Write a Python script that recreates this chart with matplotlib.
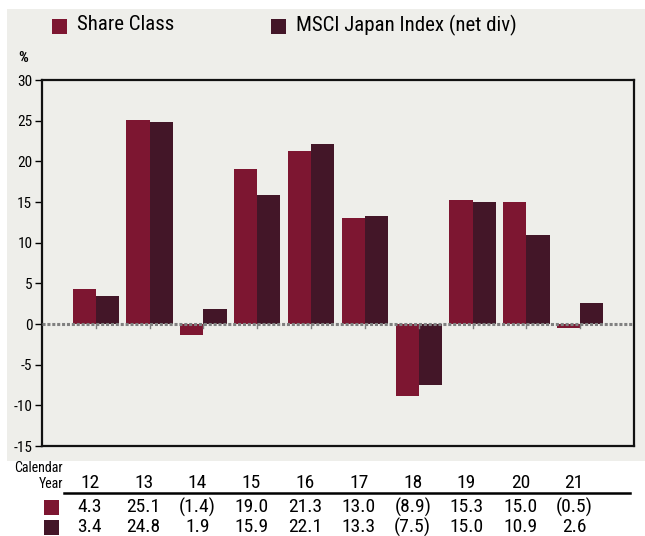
import matplotlib
matplotlib.use("Agg")
import matplotlib.pyplot as plt
from matplotlib.patches import Rectangle
import numpy as np

plt.rcParams['font.family'] = ['Roboto Condensed', 'Liberation Sans', 'DejaVu Sans']

years = ["12", "13", "14", "15", "16", "17", "18", "19", "20", "21"]
share_class = [4.3, 25.1, -1.4, 19.0, 21.3, 13.0, -8.9, 15.3, 15.0, -0.5]
msci_japan = [3.4, 24.8, 1.9, 15.9, 22.1, 13.3, -7.5, 15.0, 10.9, 2.6]
series_names = ["Share Class", "MSCI Japan Index (net div)"]
colors = ["#7D1631", "#431628"]
bg = "#EEEEEA"

W, H = 645, 536
fig = plt.figure(figsize=(W / 100, H / 100), dpi=100)
fig.patch.set_facecolor("white")
fig.add_artist(Rectangle((7 / W, 1 - 461 / H), (W - 7) / W, (461 - 9) / H,
                         transform=fig.transFigure, facecolor=bg, edgecolor="none", zorder=0))

left, right, top, bottom = 42, 634, 80, 446
ax = fig.add_axes([left / W, 1 - bottom / H, (right - left) / W, (bottom - top) / H])
ax.set_facecolor(bg)

x = np.arange(len(years))
w = 0.43
ax.bar(x - w / 2, share_class, w, color=colors[0], zorder=3)
ax.bar(x + w / 2, msci_japan, w, color=colors[1], zorder=3)
ax.axhline(0, color="#808080", lw=2.2, ls=(0, (1, 0.6)), zorder=4)

ax.set_xlim(-1, 10)
ax.set_ylim(-15, 30)
ax.set_yticks(range(-15, 31, 5))
ax.set_yticklabels([str(v) for v in range(-15, 31, 5)], fontsize=11)
ax.tick_params(axis="y", length=5, width=1, pad=2)
ax.set_xticks([])
for xi in x:
    ax.plot([xi, xi], [0, -0.5], color="#808080", lw=1, zorder=4)
for s in ax.spines.values():
    s.set_linewidth(1.6)
    s.set_color("#111111")

fig.text(23 / W, 1 - 58 / H, "%", fontsize=11, ha="center", va="center", fontweight="bold")

# legend
lx = [52, 271]
tx = [77, 296]
for i in range(2):
    fig.add_artist(Rectangle((lx[i] / W, 1 - 34 / H), 15 / W, 15 / H, transform=fig.transFigure,
                             facecolor=colors[i], edgecolor="none"))
    fig.text(tx[i] / W, 1 - 25 / H, series_names[i], fontsize=15, ha="left", va="center")

# table
def xpix(v):
    return left + (v + 1) / 11 * (right - left) - 6

fig.text(63 / W, 1 - 468 / H, "Calendar", fontsize=10, ha="right", va="center")
fig.text(63 / W, 1 - 484 / H, "Year", fontsize=10, ha="right", va="center")
for i, yr in enumerate(years):
    fig.text(xpix(i) / W, 1 - 483 / H, yr, fontsize=14, ha="center", va="center")
fig.add_artist(plt.Line2D([64 / W, 630 / W], [1 - 493 / H, 1 - 493 / H], color="black", lw=1.8,
                          transform=fig.transFigure))

def fmt(v):
    return f"({abs(v):.1f})" if v < 0 else f"{v:.1f}"

for r, (vals, ypix) in enumerate([(share_class, 507), (msci_japan, 527)]):
    fig.add_artist(Rectangle((44 / W, 1 - (ypix + 7.5) / H), 15 / W, 15 / H, transform=fig.transFigure,
                             facecolor=colors[r], edgecolor="none"))
    for i, v in enumerate(vals):
        fig.text(xpix(i) / W, 1 - ypix / H, fmt(v), fontsize=14, ha="center", va="center")

fig.savefig("out.png", dpi=100, facecolor=fig.get_facecolor())
